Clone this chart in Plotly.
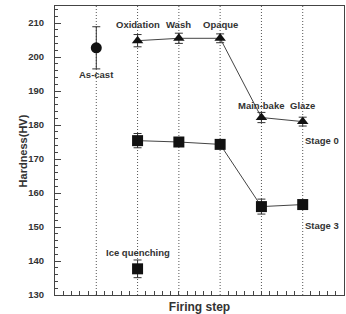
import plotly.graph_objects as go

steps = [1, 2, 3, 4, 5, 6]
ascast_x = [1]
ascast_y = [202.7]
ascast_err = [6.2]
ice_x = [2]
ice_y = [137.7]
ice_err = [2.6]
stage0_x = [2, 3, 4, 5, 6]
stage0_y = [204.8, 205.5, 205.5, 182.2, 181.0]
stage0_err = [1.8, 1.5, 1.3, 1.5, 1.3]
stage3_x = [2, 3, 4, 5, 6]
stage3_y = [175.4, 175.0, 174.3, 156.0, 156.6]
stage3_err = [2.1, 1.2, 1.0, 2.2, 0.8]
yticks = [130, 140, 150, 160, 170, 180, 190, 200, 210]

labels = [
    ("As-cast", 1, 194.8),
    ("Oxidation", 2, 209.6),
    ("Wash", 3, 209.6),
    ("Opaque", 4, 209.6),
    ("Main-bake", 5, 185.8),
    ("Glaze", 6, 185.8),
    ("Stage 0", 6.47, 175.4),
    ("Stage 3", 6.47, 150.4),
    ("Ice quenching", 2, 142.6),
]

col = "#111111"
fig = go.Figure()
fig.add_trace(go.Scatter(x=ascast_x, y=ascast_y, mode="markers",
    marker=dict(symbol="circle", size=11, color=col),
    error_y=dict(type="data", array=ascast_err, color="#333", thickness=1, width=4)))
fig.add_trace(go.Scatter(x=ice_x, y=ice_y, mode="markers",
    marker=dict(symbol="square", size=11, color=col),
    error_y=dict(type="data", array=ice_err, color="#333", thickness=1, width=4)))
fig.add_trace(go.Scatter(x=stage0_x, y=stage0_y, mode="lines+markers",
    line=dict(color="#444", width=1),
    marker=dict(symbol="triangle-up", size=10, color=col),
    error_y=dict(type="data", array=stage0_err, color="#333", thickness=1, width=4)))
fig.add_trace(go.Scatter(x=stage3_x, y=stage3_y, mode="lines+markers",
    line=dict(color="#444", width=1),
    marker=dict(symbol="square", size=11, color=col),
    error_y=dict(type="data", array=stage3_err, color="#333", thickness=1, width=4)))

for s in steps:
    fig.add_vline(x=s, line=dict(color="#555", width=1, dash="1px,2px"), layer="below")

for t, x, y in labels:
    fig.add_annotation(x=x, y=y, text="<b>" + t + "</b>", showarrow=False,
                       font=dict(size=9.5, color="#333", family="Arial, Liberation Sans"))

fig.add_annotation(xref="paper", yref="paper", x=-0.111, y=0.5, xanchor="center", yanchor="middle",
                   text="<b>Hardness(HV)</b>",
                   textangle=-90, showarrow=False, font=dict(size=11, color="#333"))

fig.update_layout(
    width=346, height=314, margin=dict(l=55, r=2, t=6, b=19),
    plot_bgcolor="white", paper_bgcolor="white", showlegend=False,
    font=dict(family="Arial, Liberation Sans", color="#333"),
    xaxis=dict(range=[0, 7], showticklabels=False, showgrid=False, zeroline=False,
               ticks="", showline=True, linecolor="#444", linewidth=1, mirror=True,
               minor=dict(ticks="inside", dtick=0.2, tick0=0, ticklen=4, tickcolor="#444", showgrid=False),
               title=dict(text="<b>Firing step</b>", font=dict(size=12, color="#333"), standoff=9)),
    yaxis=dict(range=[130, 215], tickvals=yticks,
               ticktext=["<b>%d</b>" % v for v in yticks],
               ticks="inside", ticklen=6, tickcolor="#444", showgrid=False, zeroline=False,
               showline=True, linecolor="#444", linewidth=1, mirror=True,
               tickfont=dict(size=9.5, color="#333"), ticklabelstandoff=8,
               minor=dict(ticks="inside", dtick=2, ticklen=3, tickcolor="#444", showgrid=False)),
)
fig.write_html("out.html")
